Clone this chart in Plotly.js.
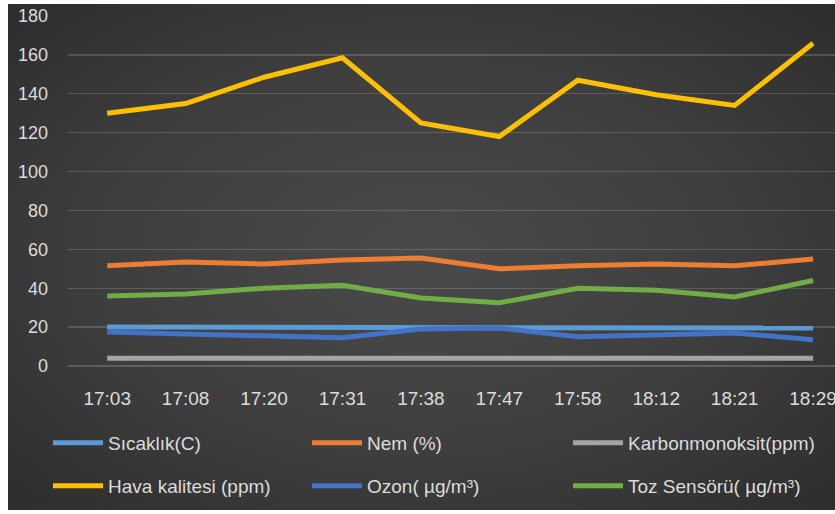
<!DOCTYPE html>
<html>
<head>
<meta charset="utf-8">
<script src="https://cdn.plot.ly/plotly-3.0.1.min.js"></script>
<style>
  html, body { margin: 0; padding: 0; background: #ffffff; width: 835px; height: 514px; overflow: hidden; }
  #chart {
    position: absolute; left: 8px; top: 4px; width: 827px; height: 506px;
    background: radial-gradient(ellipse at 50% 50%, #4a4a4a 0%, #3e3e3e 55%, #2d2d2d 100%);
  }
</style>
</head>
<body>
<div id="chart"></div>
<script>
// Categories (time of measurement)
const times = ["17:03", "17:08", "17:20", "17:31", "17:38", "17:47", "17:58", "18:12", "18:21", "18:29"];

// Series values
const sicaklik = [20, 20, 20, 20, 19.5, 19.5, 20, 19.5, 20, 19.5];
const nem = [51.5, 53.5, 52.5, 54.5, 55.5, 50, 51.5, 52.5, 51.5, 55];
const karbonmonoksit = [4, 4, 4, 4, 4, 4, 4, 4, 4, 4];
const havaKalitesi = [130, 135, 148.5, 158.5, 125, 118, 147, 139.5, 134, 166];
const ozon = [17.5, 16.5, 15.5, 14.5, 19, 19.5, 15, 16, 17, 13.5];
const tozSensoru = [36, 37, 40, 41.5, 35, 32.5, 40, 39, 35.5, 44];

// Series names
const seriesNames = ["Sıcaklık(C)", "Nem (%)", "Karbonmonoksit(ppm)", "Hava kalitesi (ppm)", "Ozon( µg/m³)", "Toz Sensörü( µg/m³)"];
const seriesData = [sicaklik, nem, karbonmonoksit, havaKalitesi, ozon, tozSensoru];
const seriesColors = ["#5B9BD5", "#ED7D31", "#A5A5A5", "#FFC000", "#4472C4", "#70AD47"];

// one legend box per entry, laid out as a 3 x 2 grid
const legendIds = ["legend", "legend2", "legend3", "legend4", "legend5", "legend6"];

const traces = seriesNames.map((name, i) => ({
  type: "scatter",
  mode: "lines",
  name: name,
  x: times,
  y: seriesData[i],
  line: { color: seriesColors[i], width: 5 },
  legend: legendIds[i],
  hoverinfo: "x+y+name"
}));

const fontFam = "Liberation Sans, Arial, sans-serif";
const txtColor = "#dcdcdc";
const W = 827, H = 506;

const colX = [40, 299, 560];   // px in the chart box
const rowY = [439, 482];       // px in the chart box

const layout = {
  width: W, height: H,
  paper_bgcolor: "rgba(0,0,0,0)",
  plot_bgcolor: "rgba(0,0,0,0)",
  margin: { l: 60, r: 0, t: 12, b: 144 },
  font: { family: fontFam, size: 18, color: txtColor },
  showlegend: true,
  xaxis: {
    type: "category",
    range: [-0.5, 9.28],
    showgrid: false,
    zeroline: false,
    showline: false,
    ticks: "",
    ticklabelstandoff: 19,
    tickfont: { family: fontFam, size: 19, color: txtColor }
  },
  yaxis: {
    range: [0, 180],
    dtick: 20,
    showgrid: true,
    gridcolor: "rgba(255,255,255,0.16)",
    gridwidth: 1.3,
    zeroline: true,
    zerolinecolor: "rgba(255,255,255,0.18)",
    zerolinewidth: 1.3,
    showline: false,
    ticks: "",
    ticklabelstandoff: 19,
    tickfont: { family: fontFam, size: 18, color: txtColor }
  }
};

legendIds.forEach((id, i) => {
  const col = i % 3, row = Math.floor(i / 3);
  layout[id] = {
    orientation: "h",
    xref: "container", yref: "container",
    x: colX[col] / W, xanchor: "left",
    y: 1 - rowY[row] / H, yanchor: "middle",
    bgcolor: "rgba(0,0,0,0)",
    font: { family: fontFam, size: 19, color: txtColor },
    itemwidth: 50
  };
});

Plotly.newPlot("chart", traces, layout, { displayModeBar: false, staticPlot: true });
</script>
</body>
</html>
